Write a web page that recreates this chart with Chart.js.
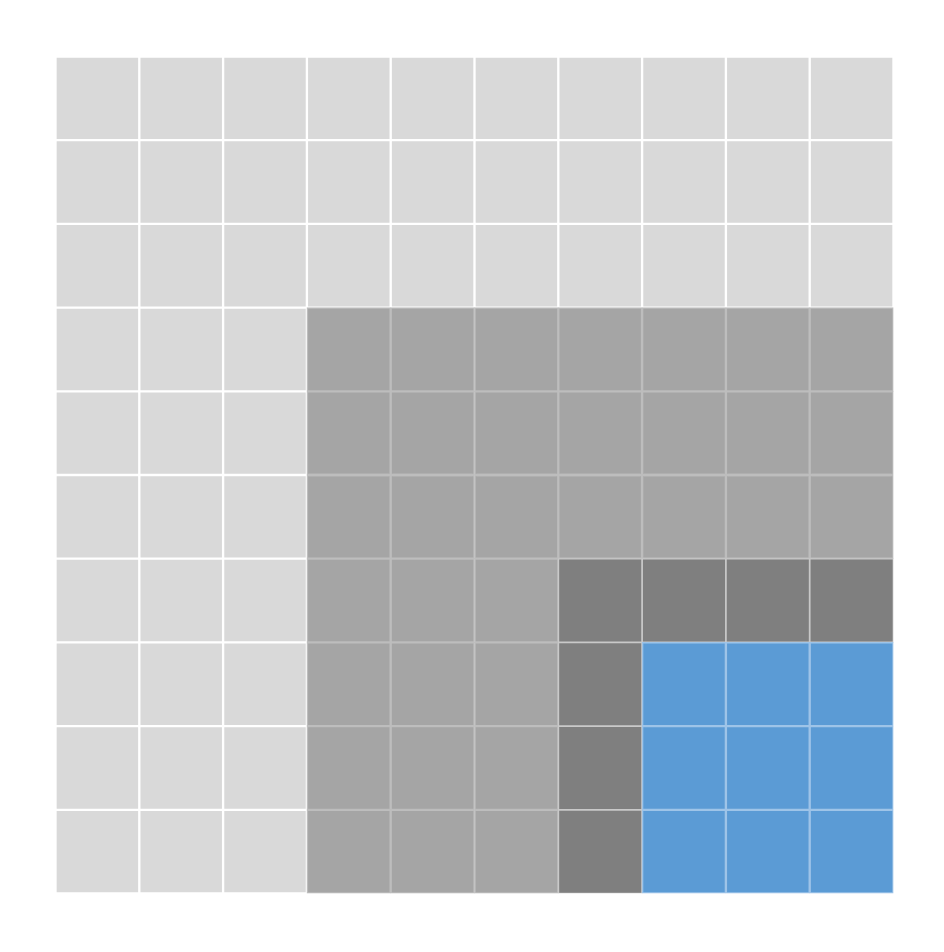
<!DOCTYPE html>
<html>
<head>
<meta charset="utf-8">
<script src="https://cdn.jsdelivr.net/npm/chart.js@4"></script>
<style>
html,body{margin:0;padding:0;background:#fff;}
#wrap{width:944px;height:952px;}
</style>
</head>
<body>
<div id="wrap"><canvas id="c" width="944" height="952"></canvas></div>
<script>
// Data
const columns = ['1','2','3','4','5','6','7','8','9','10'];
const rows = [0,1,2,3,4,5,6,7,8,9]; // row index from bottom
const layerValues = [100, 49, 16, 9];   // nested square layers (cells), anchored bottom-right
const layerColors = ['#d9d9d9', '#a5a5a5', '#7f7f7f', '#5b9bd5'];
const layerBorders = ['#ffffff', '#bdbdbd', '#c9c9c9', '#9ec4e8'];
const layerBorderWidths = [1.5, 1.5, 1.2, 1.5];

const n = columns.length;
function layerOf(colIdx, rowIdx) {
  let layer = 0;
  layerValues.forEach((v, i) => {
    const side = Math.round(Math.sqrt(v));
    if (colIdx >= n - side && rowIdx < side) layer = i;
  });
  return layer;
}

const datasets = rows.map(r => {
  const layers = columns.map((c, ci) => layerOf(ci, r));
  return {
    data: columns.map(() => [r, r + 1]),
    backgroundColor: layers.map(l => layerColors[l]),
    borderColor: layers.map(l => layerBorders[l]),
    borderWidth: layers.map(l => layerBorderWidths[l]),
    borderSkipped: false,
    grouped: false,
    barPercentage: 1,
    categoryPercentage: 1
  };
});

new Chart(document.getElementById('c'), {
  type: 'bar',
  data: { labels: columns, datasets },
  options: {
    responsive: false,
    animation: false,
    layout: { padding: { left: 55.5, right: 50.5, top: 56.5, bottom: 58.5 } },
    plugins: { legend: { display: false }, tooltip: { enabled: false } },
    scales: {
      x: { display: false, stacked: false },
      y: { display: false, min: 0, max: 10, stacked: false }
    }
  }
});
</script>
</body>
</html>
